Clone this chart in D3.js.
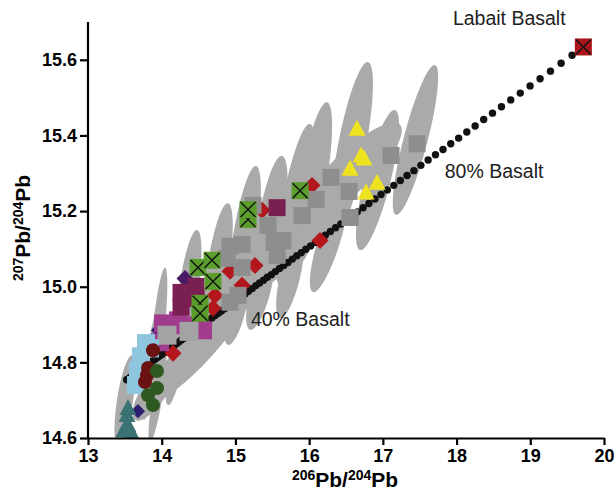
<!DOCTYPE html>
<html><head><meta charset="utf-8">
<script src="https://cdn.jsdelivr.net/npm/d3@7"></script>
<style>body{margin:0;background:#fff}svg{display:block}text{font-family:"Liberation Sans",Arial,Helvetica,sans-serif}</style>
</head><body><svg id="c" width="614" height="497"></svg>
<script>
// ---------- DATA ----------
const xTicks = [13,14,15,16,17,18,19,20];
const yTicks = [14.6,14.8,15.0,15.2,15.4,15.6];
// error ellipses: major-axis tips [x1,y1,x2,y2] and minor width (in 206Pb/204Pb units)
const ellipses = [
 [13.841,14.700,15.198,14.991,0.434],[14.791,14.965,16.283,15.243,0.678],
 [15.876,15.176,17.233,15.428,0.543],[13.638,14.648,14.180,14.806,0.339],
 [17.707,15.586,17.178,15.190,0.326],[16.798,15.594,16.351,15.137,0.380],
 [17.165,15.467,16.690,15.097,0.353],[16.242,15.488,15.876,15.065,0.353],
 [16.012,15.430,15.605,15.005,0.353],[15.632,15.346,15.306,14.965,0.353],
 [15.279,15.319,14.953,14.912,0.326],[14.899,15.221,14.628,14.872,0.298],
 [14.479,15.150,14.248,14.819,0.271],[14.045,15.050,13.868,14.714,0.163],
 [13.936,14.933,13.760,14.648,0.136],[13.597,14.819,13.407,14.581,0.217],
 [16.487,15.256,16.052,14.986,0.298],[15.876,15.137,15.605,14.917,0.271],
 [15.469,15.084,15.198,14.886,0.271],[15.130,15.031,14.899,14.846,0.244],
 [14.723,14.965,14.452,14.793,0.217],[14.316,14.912,14.085,14.687,0.190],
 [14.045,14.833,13.841,14.589,0.136]
];
// mixing curve, 1% steps (crust -> Labait basalt)
const mixX = [13.525,13.550,13.576,13.602,13.628,13.655,13.682,13.709,13.737,13.765,
 13.793,13.822,13.851,13.880,13.910,13.940,13.971,14.002,14.034,14.065,
 14.098,14.131,14.164,14.198,14.232,14.266,14.302,14.337,14.374,14.410,
 14.448,14.485,14.524,14.563,14.602,14.642,14.683,14.725,14.767,14.810,
 14.853,14.897,14.942,14.987,15.034,15.081,15.129,15.177,15.227,15.277,
 15.328,15.381,15.433,15.487,15.542,15.598,15.655,15.713,15.772,15.833,
 15.894,15.956,16.020,16.085,16.151,16.219,16.288,16.358,16.430,16.503,
 16.577,16.654,16.732,16.811,16.893,16.976,17.061,17.148,17.237,17.328,
 17.421,17.516,17.614,17.714,17.816,17.921,18.028,18.139,18.252,18.368,
 18.487,18.609,18.735,18.864,18.997,19.133,19.274,19.418,19.567];
const mixY = [14.754,14.757,14.761,14.764,14.768,14.772,14.776,14.780,14.784,14.788,
 14.792,14.796,14.800,14.804,14.808,14.813,14.817,14.821,14.826,14.830,
 14.835,14.840,14.844,14.849,14.854,14.859,14.864,14.869,14.874,14.879,
 14.885,14.890,14.896,14.901,14.907,14.912,14.918,14.924,14.930,14.936,
 14.942,14.949,14.955,14.961,14.968,14.975,14.981,14.988,14.995,15.003,
 15.010,15.017,15.025,15.032,15.040,15.048,15.056,15.064,15.073,15.082,
 15.090,15.099,15.108,15.117,15.127,15.136,15.146,15.156,15.166,15.177,
 15.187,15.198,15.209,15.220,15.232,15.244,15.256,15.268,15.281,15.294,
 15.307,15.321,15.335,15.349,15.363,15.378,15.393,15.409,15.425,15.442,
 15.459,15.476,15.494,15.512,15.531,15.550,15.570,15.591,15.612];
const labait = [[19.72,15.634]];
const redDiamonds = [[14.153,14.824],[15.266,15.056],[14.520,14.893],[14.723,14.977],[14.696,14.943],
 [15.361,15.202],[14.927,15.041],[16.148,15.122],[16.039,15.268],[15.090,15.004]];
const graySquares = [[17.464,15.378],[17.111,15.347],[16.297,15.289],[16.541,15.252],[16.094,15.231],
 [15.904,15.188],[16.555,15.183],[15.646,15.122],[15.239,15.215],[15.442,15.162],[15.524,15.117],
 [15.565,15.083],[14.927,15.107],[15.090,15.112],[14.886,15.075],[15.090,15.051],[15.035,14.977],[14.927,14.959]];
const navyDiamonds = [[13.950,14.885],[13.678,14.671]];
const purpleDiamonds = [[14.316,15.022]];
const pinkSquares = [[14.018,14.903],[14.221,14.911],[14.560,14.885],[13.977,14.853],[14.316,14.898]];
const magentaSquares = [[15.565,15.209],[14.262,14.985],[14.262,14.946],[14.465,15.001],[14.465,14.969]];
const lightGraySquares = [[14.072,14.872],[14.370,14.882]];
const greenXSquares = [[15.171,15.178],[15.171,15.204],[15.877,15.254],[14.493,15.051],[14.683,15.070],
 [14.696,15.014],[14.520,14.956],[14.520,14.930]];
const yellowTriangles = [[16.650,15.418],[16.704,15.347],[16.745,15.339],[16.555,15.312],[16.922,15.275],[16.772,15.249]];
const lightBlueSquares = [[13.787,14.851],[13.719,14.816],[13.678,14.779],[13.651,14.740],[13.841,14.837]];
const darkRedCircles = [[13.882,14.832],[13.814,14.785],[13.801,14.766],[13.773,14.748]];
const darkGreenCircles = [[13.936,14.777],[13.936,14.732],[13.814,14.713],[13.882,14.687]];
const tealTriangles = [[13.543,14.679],[13.529,14.661],[13.543,14.634],[13.583,14.616],[13.488,14.621]];
const labels = [["Labait Basalt",17.95,15.692],["80% Basalt",17.84,15.288],["40% Basalt",15.21,14.896]];

// ---------- CHART ----------
const svg = d3.select("#c");
const x = d3.scaleLinear([13,20],[88,604]);
const y = d3.scaleLinear([14.6,15.7],[438,22]);

svg.append("defs").append("clipPath").attr("id","clip")
  .append("rect").attr("x",88).attr("y",0).attr("width",530).attr("height",438);
const plot = svg.append("g").attr("clip-path","url(#clip)");

// ellipses
plot.append("g").selectAll("ellipse").data(ellipses).join("ellipse")
  .each(function(d){
    const x1=x(d[0]),y1=y(d[1]),x2=x(d[2]),y2=y(d[3]);
    const cx=(x1+x2)/2, cy=(y1+y2)/2;
    const len=Math.hypot(x2-x1,y2-y1)/2;
    const ang=Math.atan2(y2-y1,x2-x1)*180/Math.PI;
    const w=(x(13+d[4])-x(13))/2;
    d3.select(this).attr("cx",0).attr("cy",0).attr("rx",len).attr("ry",w)
      .attr("transform",`translate(${cx},${cy}) rotate(${ang})`);
  })
  .attr("fill","#aaaaaa");

// mixing dots
plot.append("g").selectAll("circle").data(mixX).join("circle")
  .attr("cx",d=>x(d)).attr("cy",(d,i)=>y(mixY[i])).attr("r",3.7).attr("fill","#111");

function squares(data, fill, size, cross){
  const g = plot.append("g");
  data.forEach(d=>{
    const cx=x(d[0]), cy=y(d[1]), h=size/2;
    g.append("rect").attr("x",cx-h).attr("y",cy-h).attr("width",size).attr("height",size).attr("fill",fill);
    if(cross){
      g.append("path").attr("d",`M${cx-h+1},${cy-h+1}L${cx+h-1},${cy+h-1}M${cx+h-1},${cy-h+1}L${cx-h+1},${cy+h-1}`)
        .attr("stroke","#111").attr("stroke-width",1.4).attr("fill","none");
    }
  });
}
function diamonds(data, fill, side){
  plot.append("g").selectAll("rect").data(data).join("rect")
    .attr("x",-side/2).attr("y",-side/2).attr("width",side).attr("height",side)
    .attr("transform",d=>`translate(${x(d[0])},${y(d[1])}) rotate(45)`).attr("fill",fill);
}
function triangles(data, fill){
  plot.append("g").selectAll("path").data(data).join("path")
    .attr("d",d=>{const cx=x(d[0]),cy=y(d[1]);return `M${cx},${cy-9}L${cx+8.5},${cy+7}L${cx-8.5},${cy+7}Z`;})
    .attr("fill",fill);
}
function circles(data, fill){
  plot.append("g").selectAll("circle").data(data).join("circle")
    .attr("cx",d=>x(d[0])).attr("cy",d=>y(d[1])).attr("r",7).attr("fill",fill);
}

diamonds(redDiamonds,"#b3161c",12);
squares(graySquares,"#8e8e8e",17,false);
diamonds(navyDiamonds,"#2b2070",10);
diamonds(purpleDiamonds,"#4b1a66",12);
squares(pinkSquares,"#a23a8e",18,false);
squares(magentaSquares,"#7a1f52",17,false);
squares(lightGraySquares,"#a3a3a3",19,false);
squares(greenXSquares,"#5b9e2e",17,true);
triangles(yellowTriangles,"#efe21f");
squares(lightBlueSquares,"#8ec6df",18,false);
circles(darkRedCircles,"#6b1212");
circles(darkGreenCircles,"#2e5a22");
triangles(tealTriangles,"#3b7374");
squares(labait,"#a8161b",17,true);

// axes
const fontAxis = '"Liberation Sans",Arial,sans-serif';
const gx = svg.append("g").attr("transform","translate(0,438)")
  .call(d3.axisBottom(x).tickValues(xTicks).tickFormat(d3.format("d")).tickSize(7).tickSizeOuter(0).tickPadding(4));
const gy = svg.append("g").attr("transform","translate(88,0)")
  .call(d3.axisLeft(y).tickValues(yTicks).tickFormat(d3.format(".1f")).tickSize(8).tickSizeOuter(0).tickPadding(3));
[gx,gy].forEach(g=>{
  g.select(".domain").attr("stroke","#000").attr("stroke-width",2.2);
  g.selectAll(".tick line").attr("stroke","#000").attr("stroke-width",2.2);
  g.selectAll(".tick text").attr("fill","#000").style("font-size","18px").style("font-weight","bold").style("font-family",fontAxis);
});
gy.select(".domain").attr("d","M0,438V22");

// axis titles
const xt = svg.append("text").attr("x",345).attr("y",487).attr("text-anchor","middle")
  .style("font-size","21px").style("font-weight","bold").attr("fill","#000");
xt.append("tspan").text("206").style("font-size","14px").attr("dy","-7");
xt.append("tspan").text("Pb/").attr("dy","7");
xt.append("tspan").text("204").style("font-size","14px").attr("dy","-7");
xt.append("tspan").text("Pb").attr("dy","7");

const yt = svg.append("text").attr("transform","translate(30,228) rotate(-90)").attr("text-anchor","middle")
  .style("font-size","21px").style("font-weight","bold").attr("fill","#000");
yt.append("tspan").text("207").style("font-size","14px").attr("dy","-7");
yt.append("tspan").text("Pb/").attr("dy","7");
yt.append("tspan").text("204").style("font-size","14px").attr("dy","-7");
yt.append("tspan").text("Pb").attr("dy","7");

// annotations
svg.append("g").selectAll("text").data(labels).join("text")
  .attr("x",d=>x(d[1])).attr("y",d=>y(d[2])).text(d=>d[0])
  .style("font-size","19.5px").attr("fill","#222");
</script></body></html>
